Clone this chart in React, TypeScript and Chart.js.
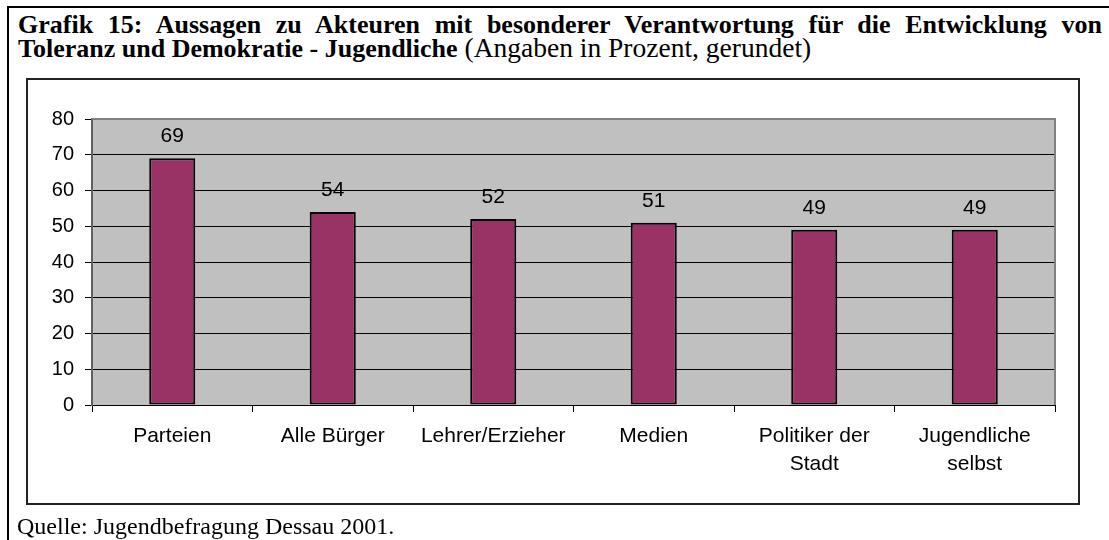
import React, { useEffect, useRef } from "react";
import { Chart, registerables } from "chart.js";

Chart.register(...registerables);

const categories: string[][] = [
  ["Parteien"],
  ["Alle Bürger"],
  ["Lehrer/Erzieher"],
  ["Medien"],
  ["Politiker der", "Stadt"],
  ["Jugendliche", "selbst"],
];
const values: number[] = [69, 54, 52, 51, 49, 49];
const yMin = 0;
const yMax = 80;
const yStep = 10;

const titleLine1 =
  "Grafik 15: Aussagen zu Akteuren mit besonderer Verantwortung für die Entwicklung von";
const titleLine2Bold = "Toleranz und Demokratie - Jugendliche";
const titleLine2Normal = " (Angaben in Prozent, gerundet)";
const sourceText = "Quelle: Jugendbefragung Dessau 2001.";

const SANS = "'Liberation Sans', Arial, sans-serif";
const SERIF = "'Liberation Serif', 'Times New Roman', serif";

const plotBackground = {
  id: "plotBackground",
  beforeDraw(chart: any) {
    const { ctx, chartArea } = chart;
    ctx.save();
    ctx.fillStyle = "#C0C0C0";
    ctx.fillRect(chartArea.left, chartArea.top, chartArea.right - chartArea.left, chartArea.bottom - chartArea.top);
    ctx.restore();
  },
};

const plotBorder = {
  id: "plotBorder",
  beforeDatasetsDraw(chart: any) {
    const { ctx, chartArea } = chart;
    ctx.save();
    ctx.strokeStyle = "#808080";
    ctx.lineWidth = 2;
    ctx.beginPath();
    ctx.moveTo(chartArea.left, chartArea.top);
    ctx.lineTo(chartArea.right, chartArea.top);
    ctx.lineTo(chartArea.right, chartArea.bottom);
    ctx.stroke();
    ctx.restore();
  },
};

const valueLabels = {
  id: "valueLabels",
  afterDatasetsDraw(chart: any) {
    const { ctx } = chart;
    const meta = chart.getDatasetMeta(0);
    const data = chart.data.datasets[0].data;
    ctx.save();
    ctx.font = `21px ${SANS}`;
    ctx.fillStyle = "#000";
    ctx.textAlign = "center";
    ctx.textBaseline = "alphabetic";
    meta.data.forEach((bar: any, i: number) => {
      ctx.fillText(String(data[i]), bar.x, bar.y - 16);
    });
    ctx.restore();
  },
};

export default function App() {
  const canvasRef = useRef<HTMLCanvasElement | null>(null);

  useEffect(() => {
    if (!canvasRef.current) return;
    const chart = new Chart(canvasRef.current, {
      type: "bar",
      data: {
        labels: categories,
        datasets: [
          {
            data: values,
            backgroundColor: "#993366",
            borderColor: "#000000",
            borderWidth: 2,
            borderSkipped: false,
            barPercentage: 0.287,
            categoryPercentage: 1,
          },
        ],
      },
      options: {
        animation: false,
        responsive: false,
        devicePixelRatio: 1,
        layout: { padding: { left: 0, top: 119, right: 54, bottom: 35 } },
        plugins: {
          legend: { display: false },
          title: { display: false },
          tooltip: { enabled: false },
        },
        scales: {
          x: {
            offset: true,
            afterFit(scale: any) {
              scale.height = 100;
            },
            grid: {
              display: true,
              offset: true,
              drawOnChartArea: false,
              drawTicks: true,
              tickLength: 7,
              color: "#000",
              lineWidth: 1,
            },
            border: { display: true, color: "#000", width: 1 },
            ticks: {
              color: "#000",
              font: { family: SANS, size: 21, lineHeight: 1.33 },
              padding: 10,
              maxRotation: 0,
              minRotation: 0,
              autoSkip: false,
            },
          },
          y: {
            min: yMin,
            max: yMax,
            afterFit(scale: any) {
              scale.width = 92;
            },
            grid: {
              color: "#000",
              lineWidth: 1,
              drawTicks: true,
              tickLength: 7,
            },
            border: { display: true, color: "#606060", width: 2 },
            ticks: {
              stepSize: yStep,
              color: "#000",
              font: { family: SANS, size: 20 },
              padding: 11,
            },
          },
        },
      },
      plugins: [plotBackground, plotBorder, valueLabels],
    });
    return () => chart.destroy();
  }, []);

  return (
    <div style={{ position: "absolute", left: 0, top: 0, width: 1109, height: 540, background: "#fff", overflow: "hidden" }}>
      {/* outer frame lines */}
      <div style={{ position: "absolute", left: 7, top: 6, width: 1102, height: 2, background: "#000" }} />
      <div style={{ position: "absolute", left: 7, top: 6, width: 2, height: 534, background: "#000" }} />
      {/* title */}
      <div
        style={{
          position: "absolute",
          left: 18,
          top: 13,
          width: 1084,
          fontFamily: SERIF,
          fontSize: 26,
          lineHeight: "23px",
          color: "#000",
          whiteSpace: "nowrap",
        }}
      >
        <div style={{ fontWeight: "bold", textAlign: "justify", textAlignLast: "justify" as any }}>{titleLine1}</div>
        <div>
          <span style={{ fontWeight: "bold" }}>{titleLine2Bold}</span>
          <span style={{ fontSize: 27.5 }}>{titleLine2Normal}</span>
        </div>
      </div>
      {/* inner chart box */}
      <div
        style={{
          position: "absolute",
          left: 26,
          top: 78,
          width: 1050,
          height: 423,
          border: "2px solid #222",
        }}
      />
      <canvas
        ref={canvasRef}
        width={1109}
        height={540}
        style={{ position: "absolute", left: 0, top: 0, width: 1109, height: 540 }}
      />
      {/* source */}
      <div
        style={{
          position: "absolute",
          left: 17,
          top: 512,
          fontFamily: SERIF,
          fontSize: 24,
          lineHeight: "28px",
          color: "#000",
          whiteSpace: "nowrap",
        }}
      >
        {sourceText}
      </div>
    </div>
  );
}
